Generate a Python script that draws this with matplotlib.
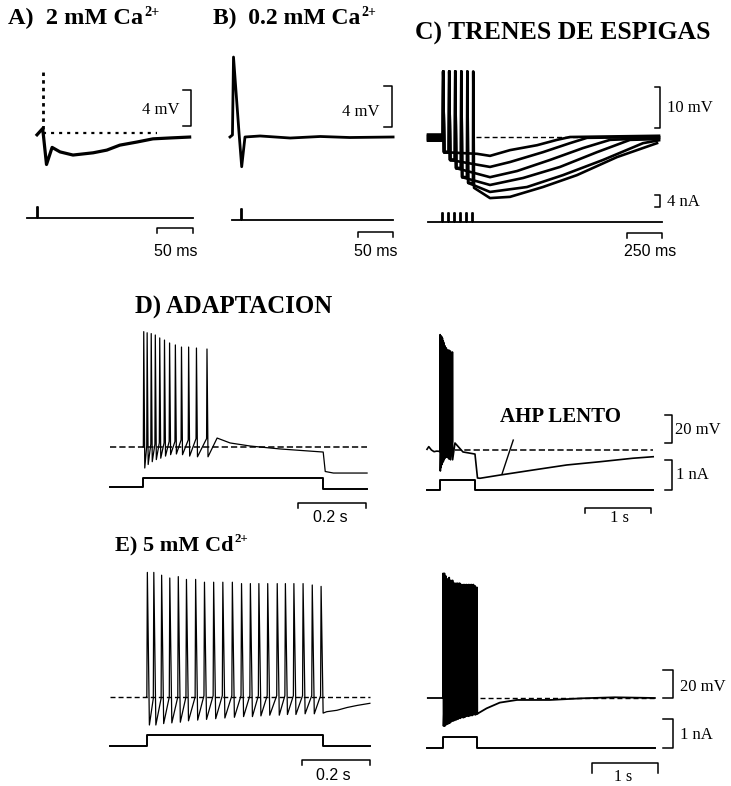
import matplotlib
matplotlib.use("Agg")
import matplotlib.pyplot as plt

W, H = 731, 786

plt.rcParams['font.family'] = ['Liberation Serif', 'DejaVu Serif']
plt.rcParams['lines.scale_dashes'] = False

# ---------------- data ----------------
# A) 2 mM Ca2+  (ms, mV)
A_t = [0, 7.9, 13.2, 21, 32, 50, 78, 97, 115, 139, 161, 185, 212]
A_v = [-0.2, 0.5, -3.5, -1.6, -2.1, -2.45, -2.2, -1.9, -1.35, -1.0, -0.65, -0.55, -0.45]
A_spike_t = 7.9
A_spike_peak = 7.2
A_pulse_t = 0.4          # ms, current pulse

# B) 0.2 mM Ca2+
B_t = [0, 3.5, 5, 12.9, 16.7, 21.4, 43, 86, 129, 171, 233]
B_v = [0, 0.2, 7.8, 0.4, -2.9, 0, 0.1, -0.1, 0.05, -0.05, 0]
B_pulse_t = 15.3

# C) trenes de espigas (1..6 spikes)
C_spk = [107, 150, 193, 236, 279, 321]
C_peak = 16
C_pre = [0.6, 0.3, 0.0, -0.3, -0.6, -0.9]
C_after = [-3.7, -5.6, -7.6, -9.8, -11.2, -12.4]
C_post_t = [
    [350, 443, 586, 779, 921, 1014, 1650],
    [443, 586, 821, 1014, 1136, 1650],
    [443, 636, 871, 1107, 1300, 1650],
    [443, 679, 943, 1207, 1443, 1650],
    [443, 707, 964, 1250, 1536, 1650],
    [443, 586, 821, 1064, 1350, 1636],
]
C_post_v = [
    [-4.1, -4.6, -3.2, -2.0, -0.7, 0, 0.3],
    [-7.3, -6.1, -3.7, -1.5, -0.2, 0],
    [-9.8, -8.3, -5.6, -2.7, -0.7, -0.2],
    [-11.7, -10.0, -7.3, -3.7, -0.7, -0.5],
    [-13.4, -12.2, -9.3, -5.6, -1.5, -0.8],
    [-14.9, -14.6, -12.2, -9.3, -4.9, -1.5],
]
C_pulse_amp = 3.0        # nA

# D) adaptacion (s, mV), times relative to step onset
D_spk = [0.001, 0.011, 0.023, 0.035, 0.048, 0.062, 0.077, 0.094, 0.112, 0.133, 0.156, 0.187]
D_peak = [82.4, 81.6, 81, 80, 77.9, 76.4, 74.3, 72.9, 71.4, 71.4, 70.7, 70]
D_trough = [-15, -12.5, -10.5, -9, -8, -6.5, -5.5, -5, -5.5, -6.5, -7, -7]
D_thr = [0, 1, 2, 2, 3, 3, 4, 4, 5, 5, 6, 6]
D_post_t = [0.218, 0.256, 0.315, 0.403, 0.53, 0.536, 0.56, 0.659]
D_post_v = [6.4, 2.9, 0.7, -1.4, -3.6, -17.5, -18.6, -18.6]
D_pre_slow_t = [-0.197, -0.17, -0.13, -0.09, -0.05, 0]
D_pre_slow_v = [0.5, 2.4, 0, -1.2, -0.8, -1]
D_slow_t = [0.227, 0.348, 0.53, 0.568, 0.606, 0.909, 1.41, 1.92, 2.42, 2.92, 3.23]
D_slow_v = [5, -1.4, -2.9, -20, -20.2, -17.9, -14.3, -10.7, -8.4, -5.9, -4.8]
D_dur = 0.53
D_amp = 0.3
D_after_I = -0.07

# E) 5 mM Cd2+
E_spk = [0.001, 0.020, 0.043, 0.067, 0.092, 0.116, 0.143, 0.169, 0.196, 0.223, 0.251,
         0.278, 0.304, 0.329, 0.355, 0.383, 0.407, 0.432, 0.459, 0.486, 0.512]
E_peak = [89, 89, 87, 85, 86, 84, 84, 82, 82, 82, 82, 81, 81, 81, 81, 81, 81, 81, 81, 80, 79]
E_trough = [-20, -20, -19, -18.5, -18, -17, -16.5, -16, -15.5, -15, -14.5,
            -14, -14, -13.5, -13, -13, -12.5, -12.5, -12, -12, -11.5]
E_thr = [0, -1, -1, 0, 0, 0, 0, 1, 1, 1, 1, 1, 1, 1, 1, 1, 1, 1, 1, 1, 1]
E_post_t = [0.53, 0.56, 0.59, 0.62, 0.657]
E_post_v = [-10.5, -9.5, -7.5, -6, -4.5]
E_slow_t = [0.53, 0.66, 0.86, 1.12, 1.62, 2.12, 2.6, 3.21]
E_slow_v = [-11, -7.4, -3.3, -1.4, -1.4, -0.2, 0.5, 0]
E_dur = 0.52
E_amp = 0.38

fig = plt.figure(figsize=(W / 100, H / 100), dpi=100)
renderer = fig.canvas.get_renderer()


def layer(x0, sx, y0, sy):
    # transparent axes over the whole figure, data (0,0) on pixel (x0,y0)
    ax = fig.add_axes([0, 0, 1, 1])
    ax.set_xlim(-x0 / sx, (W - x0) / sx)
    ax.set_ylim((y0 - H) / sy, y0 / sy)
    ax.axis('off')
    ax.patch.set_visible(False)
    return ax


def label(x, y, s, ha='center', size=12, family='Liberation Serif', weight='normal'):
    return fig.text(x / W, 1 - y / H, s, ha=ha, va='center', fontsize=size,
                    family=family, weight=weight)


def title(x, y, main, sup, size):
    t = label(x, y, main, ha='left', size=size, weight='bold')
    if sup:
        bb = t.get_window_extent(renderer)
        fig.text((bb.x1 + 1) / W, 1 - (y - 6) / H, sup, ha='left', va='center',
                 fontsize=size * 0.58, weight='bold', family='Liberation Serif')


def vbar(ax, t, v0, v1, tick):
    ax.plot([t - tick, t, t, t - tick], [v0, v0, v1, v1], color='k', lw=1.1)


def hbar(ax, t0, t1, y, tick):
    ax.plot([t0, t0, t1, t1], [y - tick, y, y, y - tick], color='k', lw=1.1)


def step(t_start, t_on, dur, amp, t_end, after=0.0):
    return ([t_start, t_on, t_on, t_on + dur, t_on + dur, t_end],
            [0, 0, amp, amp, after, after])


def burst(spk, peak, trough, thr, rise, fall):
    t, v = [], []
    for s, p, tr, th in zip(spk, peak, trough, thr):
        t += [s, s + rise, s + rise + fall]
        v += [th, p, tr]
    return t, v


kw = dict(color='k', solid_joinstyle='round')

# ---------- A ----------
axA = layer(37, 0.72, 133, 9)
axA.plot(A_t, A_v, lw=2.3, **kw)
axA.plot([A_spike_t, A_spike_t], [A_v[1], A_spike_peak], color='k', lw=2.0,
         linestyle=(0, (2.5, 3)))
axA.plot([8.3, 167], [0, 0], color='k', lw=1.6, linestyle=(0, (2.2, 3.6)))
vbar(axA, 214, 0.78, 4.78, 11)
axAi = layer(37, 0.72, 218, 11)
t, i = step(-14, A_pulse_t, 1.4, 1, 217)
axAi.plot(t, i, lw=1.3, **kw)
hbar(axAi, 166.7, 216.7, -0.91, 0.45)
title(8, 18, 'A)  2 mM Ca', '2+', 17.5)
label(180, 110, '4 mV', ha='right', size=12)
label(176, 252, '50 ms', size=11.5, family='Liberation Sans')

# ---------- B ----------
axB = layer(230, 0.7, 137, 10.25)
axB.plot(B_t, B_v, lw=2.0, **kw)
vbar(axB, 231.4, 0.98, 4.98, 11.4)
axBi = layer(230, 0.7, 220, 11)
t, i = step(2.9, B_pulse_t, 1.4, 1, 233)
axBi.plot(t, i, lw=1.3, **kw)
hbar(axBi, 182.9, 232.9, -1.09, 0.45)
title(213, 18, 'B)  0.2 mM Ca', '2+', 17)
label(379, 112, '4 mV', ha='right', size=12)
label(376, 252, '50 ms', size=11.5, family='Liberation Sans')

# ---------- C ----------
axC = layer(428, 0.14, 137, 4.1)
for k in range(6):
    t = [0, C_spk[0]]
    v = [C_pre[k], C_pre[k]]
    for j in range(k + 1):
        t += [C_spk[j] + 2, C_spk[j] + 8]
        v += [C_peak, C_after[j]]
        if j < k:
            t.append(C_spk[j + 1])
            v.append(C_after[j])
    t += C_post_t[k]
    v += C_post_v[k]
    axC.plot(t, v, lw=1.9, **kw)
axC.plot([340, 1640], [0, 0], color='k', lw=1.0, linestyle=(0, (3.6, 2.2)))
vbar(axC, 1657, 2.2, 12.2, 36)
axCi = layer(428, 0.14, 222, 3)
t, i = [0], [0]
for s in C_spk:
    t += [s - 5, s - 5, s, s]
    i += [0, C_pulse_amp, C_pulse_amp, 0]
t.append(1670)
i.append(0)
axCi.plot(t, i, lw=1.3, **kw)
vbar(axCi, 1657, 5, 9, 36)
hbar(axCi, 1421, 1671, -3.67, 1.67)
title(415, 33, 'C) TRENES DE ESPIGAS', '', 18.5)
label(667, 108, '10 mV', ha='left', size=12)
label(667, 202, '4 nA', ha='left', size=12)
label(650, 252, '250 ms', size=11.5, family='Liberation Sans')

# ---------- D ----------
title(135, 307, 'D) ADAPTACION', '', 17.8)
axD = layer(143, 340, 447, 1.4)
bt, bv = burst(D_spk, D_peak, D_trough, D_thr, 0.0012, 0.003)
axD.plot([0] + bt + D_post_t, [0] + bv + D_post_v, lw=0.9, **kw)
axD.plot([-0.096, 0.659], [0, 0], color='k', lw=1.1, linestyle=(0, (4.5, 2.2)))
axDi = layer(143, 340, 487, 30)
t, i = step(-0.096, 0, D_dur, D_amp, 0.659, D_after_I)
axDi.plot(t, i, lw=1.4, **kw)
hbar(axDi, 0.456, 0.656, -0.53, 0.17)
label(330, 517, '0.2 s', size=11.5, family='Liberation Sans')

axD2 = layer(440, 66, 450, 1.4)
axD2.plot(D_pre_slow_t + bt + D_slow_t, D_pre_slow_v + bv + D_slow_v, lw=1.2, **kw)
axD2.plot([0.227, 3.23], [0, 0], color='k', lw=1.1, linestyle=(0, (4.5, 2.2)))
axD2.plot([1.11, 0.94], [7.1, -17.1], color='k', lw=1.0)
vbar(axD2, 3.515, 5, 25, 0.106)
axD2i = layer(440, 66, 490, 30)
t, i = step(-0.197, 0, D_dur, D_amp + 0.03, 3.23)
axD2i.plot(t, i, lw=1.4, **kw)
vbar(axD2i, 3.515, 0, 1, 0.106)
hbar(axD2i, 2.197, 3.197, -0.6, 0.17)
label(560, 417, 'AHP LENTO', size=15, weight='bold')
label(675, 430, '20 mV', ha='left', size=12)
label(676, 475, '1 nA', ha='left', size=12)
label(620, 518, '1 s', size=12)

# ---------- E ----------
title(115, 545, 'E) 5 mM Cd', '2+', 16)
axE = layer(146.5, 340, 697, 1.4)
et, ev = burst(E_spk, E_peak, E_trough, E_thr, 0.0015, 0.006)
axE.plot([0] + et + E_post_t, [0] + ev + E_post_v, lw=0.9, **kw)
axE.plot([-0.107, 0.657], [0, 0], color='k', lw=1.0, linestyle=(0, (3.6, 2.2)))
axEi = layer(146.5, 340, 746, 29)
t, i = step(-0.107, 0, E_dur, E_amp, 0.657)
axEi.plot(t, i, lw=1.4, **kw)
hbar(axEi, 0.457, 0.657, -0.48, 0.17)
label(333, 775, '0.2 s', size=11.5, family='Liberation Sans')

axE2 = layer(443, 66, 698, 1.4)
axE2.plot([-0.23, 0] + et + E_slow_t, [0, 0] + ev + E_slow_v, lw=1.3, **kw)
axE2.plot([0.56, 3.21], [0, 0], color='k', lw=1.0, linestyle=(0, (3.6, 2.2)))
vbar(axE2, 3.485, 0, 20, 0.15)
axE2i = layer(443, 66, 748, 29)
t, i = step(-0.247, 0, E_dur, E_amp, 3.21)
axE2i.plot(t, i, lw=1.4, **kw)
vbar(axE2i, 3.485, 0, 1, 0.15)
hbar(axE2i, 2.258, 3.258, -0.52, 0.34)
label(680, 687, '20 mV', ha='left', size=12)
label(680, 735, '1 nA', ha='left', size=12)
label(623, 777, '1 s', size=11.5)

fig.savefig('out.png', dpi=100, facecolor='white')
